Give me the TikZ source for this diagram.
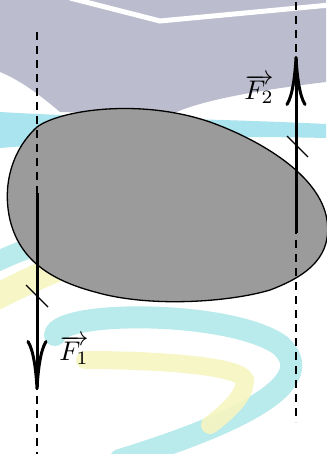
\documentclass[tikz,border=0pt]{standalone}
\usetikzlibrary{arrows.meta}
\begin{document}
\begin{tikzpicture}[x=1pt,y=-1pt,
  guide/.style={dashed,line width=1.2pt,dash pattern=on 8pt off 6pt},
  force/.style={line width=3pt,-{Computer Modern Rightarrow[length=50pt,width=21pt]}},
  tickmark/.style={line width=1.2pt},
  lbl/.style={inner sep=0pt},
  bgband/.style={line width=26pt,line cap=round,opacity=0.9}]
\useasboundingbox (0,0) rectangle (326,454);
% background watermark
\fill[white] (0,0) rectangle (326,454);
\fill[fill={rgb,255:red,188;green,188;blue,207}] (0,0) -- (326,0) -- (326,82) .. controls (260,90) and (200,100) .. (170,115) -- (60,112) .. controls (40,95) and (20,80) .. (0,72) -- cycle;
\draw[white,line width=5pt] (70,-2) -- (160,21) -- (330,5);
\fill[fill={rgb,255:red,170;green,228;blue,238}] (0,112) .. controls (100,118) and (200,118) .. (326,124) -- (326,138) .. controls (200,135) and (100,140) .. (0,148) -- cycle;
\draw[bgband,color={rgb,255:red,246;green,246;blue,192}] (-10,300) .. controls (30,280) and (60,265) .. (100,255);
\draw[bgband,color={rgb,255:red,178;green,232;blue,234},line width=20pt] (-10,265) .. controls (20,250) and (50,240) .. (90,232);
\draw[bgband,color={rgb,255:red,178;green,232;blue,234},line width=22pt] (55,335) .. controls (60,310) and (230,310) .. (280,345) .. controls (320,380) and (250,420) .. (120,460);
\draw[bgband,color={rgb,255:red,246;green,246;blue,192},line width=18pt] (85,360) .. controls (150,360) and (240,365) .. (245,380) .. controls (245,395) and (230,410) .. (210,425);
% body
\draw[line width=1.3pt,fill={rgb,255:red,155;green,155;blue,155}]
  (37,127) .. controls (60,110) and (140,98) .. (210,122)
  .. controls (260,140) and (320,175) .. (327,220)
  .. controls (332,255) and (310,275) .. (270,290)
  .. controls (230,302) and (150,308) .. (95,292)
  .. controls (50,280) and (20,260) .. (10,220)
  .. controls (2,185) and (12,150) .. (37,127) -- cycle;
% guide lines
\coordinate (l1) at (37,32);
\coordinate (l2) at (37,454);
\coordinate (r1) at (296,2);
\coordinate (r2) at (296,422);
\draw[guide] (l1) -- (l2);
\draw[guide] (r1) -- (r2);
% forces
\coordinate (f1s) at (37,193);
\coordinate (f1e) at (37,390);
\coordinate (f2s) at (296,233);
\coordinate (f2e) at (296,56);
\draw[force] (f1s) -- (f1e);
\draw[force] (f2s) -- (f2e);
% tick marks
\coordinate (t1a) at (26,285);
\coordinate (t1b) at (48,307);
\coordinate (t2a) at (287,136);
\coordinate (t2b) at (308,157);
\draw[tickmark] (t1a) -- (t1b);
\draw[tickmark] (t2a) -- (t2b);
% labels
\node[lbl] (F1) at (74,350) {\scalebox{2.7}{$\overrightarrow{F_1}$}};
\node[lbl] (F2) at (259,89) {\scalebox{2.7}{$\overrightarrow{F_2}$}};
\end{tikzpicture}
\end{document}
